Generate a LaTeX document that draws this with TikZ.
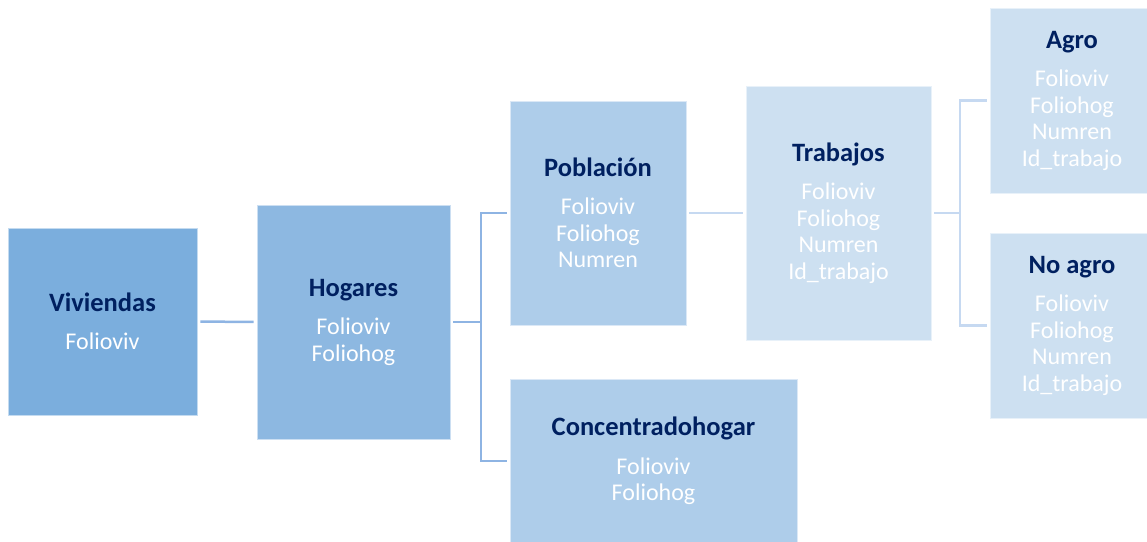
\documentclass[tikz,border=0pt]{standalone}
\usepackage{fontspec}
\setmainfont{Carlito}
\definecolor{vivblue}{HTML}{7BAEDD}
\definecolor{hogblue}{HTML}{8DB8E1}
\definecolor{pobblue}{HTML}{AECDEA}
\definecolor{trablue}{HTML}{CDE0F1}
\definecolor{navy}{HTML}{002060}
\definecolor{linkdark}{HTML}{8EB4E3}
\definecolor{linklight}{HTML}{C6D9F1}
\newcommand{\tabtitle}[1]{{\fontsize{26.5}{26.5}\selectfont\bfseries\color{navy}#1}\\[12pt]}
\tikzset{
    box/.style={rectangle, fill=#1, draw=white!55!#1, line width=0.8pt,
        align=center, text=white, inner sep=0pt,
        font=\fontsize{24}{26.5}\selectfont},
    link/.style={draw=#1, line width=2.5pt, shorten <=3pt, shorten >=3pt},
    elbow/.style={to path={|- (\tikztotarget)}}
}
\begin{document}
\begin{tikzpicture}[x=1pt, y=-1pt]
                        \useasboundingbox (0,0) rectangle (1147,541);

                        \node at (102.5, 321.5) [box=vivblue, minimum width=189pt, minimum height=187pt] (V) {\tabtitle{Viviendas}Folioviv};
                        \node at (353.5, 322) [box=hogblue, minimum width=193pt, minimum height=234pt] (H) {\tabtitle{Hogares}Folioviv\\Foliohog};
                        \node at (598, 213) [box=pobblue, minimum width=176pt, minimum height=224pt] (P) {\tabtitle{Población}Folioviv\\Foliohog\\Numren};
                        \node at (653.5, 461) [box=pobblue, minimum width=287pt, minimum height=164pt] (C) {\tabtitle{Concentradohogar}Folioviv\\Foliohog};
                        \node at (838.5, 213) [box=trablue, minimum width=185pt, minimum height=254pt] (T) {\tabtitle{Trabajos}Folioviv\\Foliohog\\Numren\\Id\_trabajo};
                        \node at (1072, 100.5) [box=trablue, minimum width=164pt, minimum height=185pt] (A) {\tabtitle{Agro}Folioviv\\Foliohog\\Numren\\Id\_trabajo};
                        \node at (1072, 325.5) [box=trablue, minimum width=164pt, minimum height=185pt] (N) {\tabtitle{No agro}Folioviv\\Foliohog\\Numren\\Id\_trabajo};

                        \coordinate (S1) at (481, 322);
                        \coordinate (S2) at (960, 213);

                        \path [link=linkdark]
                            (V) edge (H)
                            (H) edge [shorten >=0pt] (S1)
                            (S1) edge [elbow, shorten <=0pt] (P)
                            (S1) edge [elbow, shorten <=0pt] (C);
                        \path [link=linklight]
                            (P) edge (T)
                            (T) edge [shorten >=0pt] (S2)
                            (S2) edge [elbow, shorten <=0pt] (A)
                            (S2) edge [elbow, shorten <=0pt] (N);
                    \end{tikzpicture}
\end{document}
